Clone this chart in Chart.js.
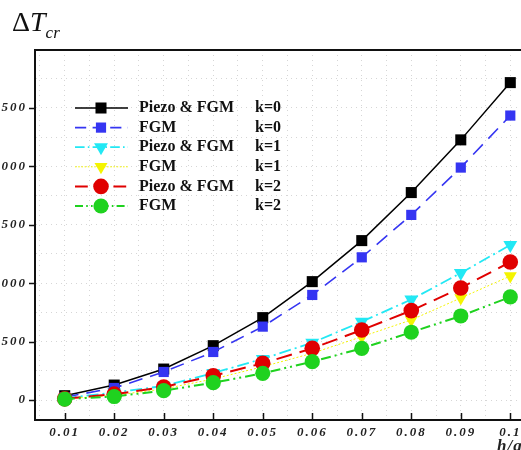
<!DOCTYPE html>
<html>
<head>
<meta charset="utf-8">
<script src="https://cdn.jsdelivr.net/npm/chart.js@4.4.1/dist/chart.umd.min.js"></script>
<style>
  html, body { margin: 0; padding: 0; background: #fff; overflow: hidden; }
  body { width: 521px; height: 450px; position: relative; }
  #wrap { position: absolute; left: -30px; top: 0; width: 600px; height: 450px; }
  #title { position: absolute; left: 12px; top: 6px; font-family: "Liberation Serif", serif; font-size: 28px; color: #111; }
  #title i { font-style: italic; }
  #title sub { font-size: 17px; font-style: italic; vertical-align: -7px; }
  #xlabel { position: absolute; left: 497px; top: 436px; font-family: "Liberation Serif", serif; font-size: 17px; font-weight: bold; font-style: italic; color: #222; letter-spacing: 1px; }
</style>
</head>
<body>
<div id="wrap"><canvas id="chart" width="600" height="450"></canvas></div>
<div id="title">&Delta;<i>T</i><sub>cr</sub></div>
<div id="xlabel">h/a</div>
<script>
// h/a ratio on the x axis
const hRatio = [0.01, 0.02, 0.03, 0.04, 0.05, 0.06, 0.07, 0.08, 0.09, 0.1];

// critical temperature rise
const piezoK0 = [37, 128, 265, 465, 705, 1013, 1364, 1775, 2226, 2716];
const fgmK0   = [25, 103, 240, 411, 628, 899, 1221, 1584, 1989, 2434];
const piezoK1 = [15, 65, 120, 231, 352, 490, 670, 860, 1087, 1327];
const fgmK1   = [10, 40, 95, 180, 285, 400, 542, 685, 873, 1061];
const piezoK2 = [10, 50, 111, 208, 314, 442, 599, 765, 959, 1181];
const fgmK2   = [8, 30, 80, 148, 228, 328, 442, 580, 719, 882];

const seriesNames = ["Piezo & FGM", "FGM", "Piezo & FGM", "FGM", "Piezo & FGM", "FGM"];
const kValues = [0, 0, 1, 1, 2, 2];
const yLabelTicks = [0, 500, 1000, 1500, 2000, 2500];

const SERIF = '"Liberation Serif", "DejaVu Serif", serif';

function pts(vals) {
  return vals.map((v, i) => ({ x: hRatio[i], y: v }));
}

function series(i, vals, color, dash, width, style, radius, rot) {
  return {
    label: seriesNames[i],
    data: pts(vals),
    borderColor: color,
    backgroundColor: color,
    borderWidth: width,
    borderDash: dash,
    pointStyle: style,
    pointRadius: radius,
    pointRotation: rot || 0,
    pointBorderWidth: 0,
    pointHoverRadius: radius,
    tension: 0,
    order: -i
  };
}

const datasets = [
  series(0, piezoK0, "#000000", [], 1.5, "rect", 7.8),
  series(1, fgmK0, "#3535f2", [14, 8], 1.6, "rect", 7.2),
  series(2, piezoK1, "#22e8f4", [12, 4, 2, 4], 1.8, "triangle", 8, 180),
  series(3, fgmK1, "#f4f400", [2, 2], 1, "triangle", 7.5, 180),
  series(4, piezoK2, "#e00000", [16, 8], 2, "circle", 7.8),
  series(5, fgmK2, "#1fd21f", [10, 4, 2, 4, 2, 4], 2, "circle", 7.6)
];

/* extra drawing: frame, tick marks, letter spacing, legend */
const decor = {
  id: "decor",
  beforeDraw(chart) {
    chart.ctx.letterSpacing = "2px";
  },
  afterDraw(chart) {
    const ctx = chart.ctx;
    const a = chart.chartArea;
    const xs = chart.scales.x, ys = chart.scales.y;
    ctx.save();
    ctx.letterSpacing = "0px";
    ctx.strokeStyle = "#111";
    ctx.lineWidth = 2;
    ctx.beginPath();
    ctx.moveTo(a.left, a.bottom);
    ctx.lineTo(a.left, a.top);
    ctx.lineTo(a.right, a.top);
    ctx.lineTo(a.right, a.bottom);
    ctx.stroke();
    // y ticks point outward, x ticks point inward
    ctx.lineWidth = 1.5;
    ctx.beginPath();
    yLabelTicks.forEach(v => {
      const py = Math.round(ys.getPixelForValue(v)) + 0.5;
      ctx.moveTo(a.left - 6, py);
      ctx.lineTo(a.left, py);
    });
    hRatio.forEach(v => {
      const px = Math.round(xs.getPixelForValue(v)) + 0.5;
      ctx.moveTo(px, a.bottom);
      ctx.lineTo(px, a.bottom - 7);
    });
    ctx.stroke();

    // legend inside the plot
    const lx = 105, ly = 108, gap = 19.6;
    ctx.font = "bold 16px " + SERIF;
    ctx.textBaseline = "middle";
    chart.data.datasets.forEach((ds, i) => {
      const y = ly + i * gap;
      ctx.strokeStyle = ds.borderColor;
      ctx.fillStyle = ds.backgroundColor;
      ctx.lineWidth = ds.borderWidth;
      ctx.setLineDash(ds.borderDash.length ? ds.borderDash.map(d => d * 0.8) : []);
      ctx.beginPath();
      ctx.moveTo(lx, y);
      ctx.lineTo(lx + 53, y);
      ctx.stroke();
      ctx.setLineDash([]);
      Chart.helpers.drawPoint(ctx, {
        pointStyle: ds.pointStyle,
        radius: ds.pointRadius,
        rotation: ds.pointRotation,
        borderWidth: 0
      }, lx + 26, y);
      ctx.fillStyle = "#111";
      ctx.fillText(ds.label, lx + 64, y);
      ctx.fillText("k=" + kValues[i], lx + 180, y);
    });
    ctx.restore();
  }
};

new Chart(document.getElementById("chart"), {
  type: "line",
  data: { datasets: datasets },
  options: {
    responsive: false,
    animation: false,
    events: [],
    layout: { padding: { top: 50, right: 30, left: 0, bottom: 0 } },
    plugins: { legend: { display: false }, tooltip: { enabled: false } },
    scales: {
      x: {
        type: "linear",
        min: 0.004,
        max: 0.106,
        afterFit: s => { s.height = 30; },
        ticks: {
          stepSize: 0.005,
          includeBounds: false,
          autoSkip: false,
          maxRotation: 0,
          padding: 5,
          color: "#222",
          font: { family: SERIF, size: 13, weight: "bold", style: "italic" },
          callback: v => {
            const r = Math.round(v * 1000);
            return r % 10 === 0 ? String(r / 1000) : "";
          }
        },
        grid: { color: "#d6d6d6", lineWidth: 1, drawTicks: false },
        border: { color: "#111", width: 2, dash: [1, 4] }
      },
      y: {
        min: -171,
        max: 2995,
        afterFit: s => { s.width = 65; },
        ticks: {
          stepSize: 250,
          includeBounds: false,
          autoSkip: false,
          padding: 8,
          color: "#222",
          font: { family: SERIF, size: 13, weight: "bold", style: "italic" },
          callback: v => (v % 500 === 0 && v <= 2500 ? String(v) : "")
        },
        grid: { color: "#d6d6d6", lineWidth: 1, drawTicks: false },
        border: { color: "#111", width: 2, dash: [1, 4] }
      }
    }
  },
  plugins: [decor]
});
</script>
</body>
</html>
